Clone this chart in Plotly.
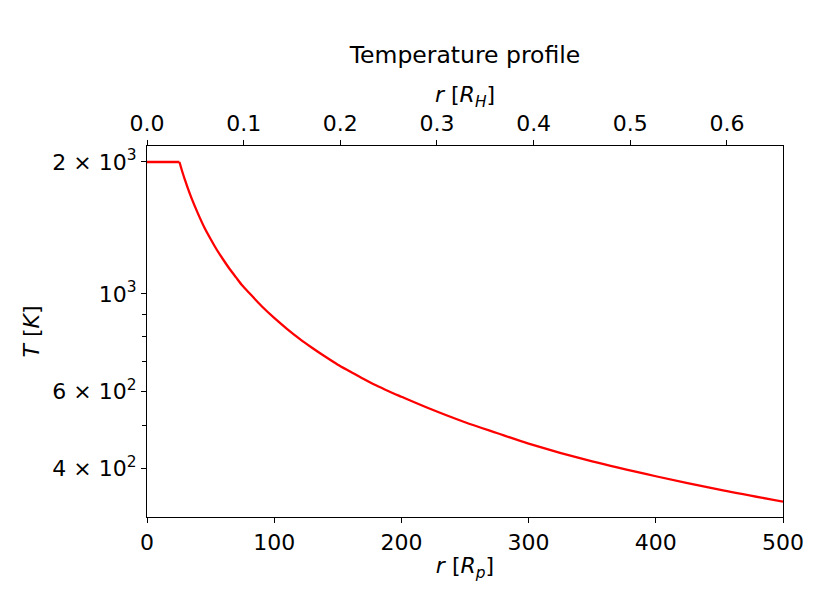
import plotly.graph_objects as go

# radius in planet radii and temperature in K
r_p = [0, 25.5, 28, 30, 32, 35, 40, 45, 50, 55, 60, 65, 70, 75, 80, 90, 100,
       110, 120, 130, 140, 150, 160, 170, 180, 190, 200, 220, 250, 275, 300,
       350, 400, 450, 500]
temp = [2000, 2000, 1890, 1815, 1745, 1654, 1527, 1420, 1335, 1260, 1197, 1140,
        1091, 1045, 1008, 939, 882, 833, 790, 753, 720, 690, 665, 641, 619,
        600, 583, 551, 510, 482, 456, 415, 384, 358, 336]

# conversion from R_p to R_H (top axis)
rp_to_rh = 0.001316
r_max = 500

y_labeled = [2000, 1000, 600, 400]
y_labels = ['2 × 10<sup>3</sup>', '10<sup>3</sup>', '6 × 10<sup>2</sup>', '4 × 10<sup>2</sup>']
y_minor = [300, 400, 500, 600, 700, 800, 900, 2000]

r_h = [v * rp_to_rh for v in r_p]

font = 'DejaVu Sans'
fs = 22

fig = go.Figure()
# flat core part, then the decaying part
fig.add_trace(go.Scatter(x=r_p[:2], y=temp[:2], mode='lines',
                         line=dict(color='red', width=2.3), showlegend=False))
fig.add_trace(go.Scatter(x=r_p[1:], y=temp[1:], mode='lines',
                         line=dict(color='red', width=2.3, shape='spline', smoothing=0.8),
                         showlegend=False))
fig.add_trace(go.Scatter(x=r_h, y=temp, mode='lines', xaxis='x2', opacity=0,
                         hoverinfo='skip', showlegend=False))

axis_common = dict(showline=True, linecolor='black', linewidth=1.2,
                   ticks='outside', ticklen=5, tickwidth=1.2, tickcolor='black',
                   showgrid=False, zeroline=False,
                   tickfont=dict(family=font, size=fs, color='black'))

fig.update_layout(
    width=822, height=601,
    margin=dict(l=139, r=47, t=138, b=92),
    paper_bgcolor='white', plot_bgcolor='white',
    font=dict(family=font, size=fs, color='black'),
    title=dict(text='Temperature profile', x=(139 + 318) / 822, xanchor='center',
               y=1 - 47 / 601, yanchor='middle', yref='container',
               font=dict(family=font, size=23.5, color='black')),
    xaxis=dict(range=[0, r_max], dtick=100, mirror=True,
               title=dict(text='<i>r</i> [<i>R</i><sub><i>p</i></sub>]',
                          standoff=4, font=dict(family=font, size=fs)),
               **axis_common),
    xaxis2=dict(range=[0, r_max * rp_to_rh], dtick=0.1, tickformat='.1f',
                overlaying='x', side='top', anchor='y',
                title=dict(text='<i>r</i> [<i>R</i><sub><i>H</i></sub>]',
                           standoff=0, font=dict(family=font, size=fs)),
                **axis_common),
    yaxis=dict(type='log', range=[2.4914, 3.3375], mirror=True,
               tickmode='array', tickvals=y_labeled, ticktext=y_labels,
               minor=dict(tickmode='array', tickvals=y_minor, ticks='outside',
                          ticklen=3.5, tickwidth=1.2, tickcolor='black'),
               title=dict(text='<i>T</i> [<i>K</i>]', standoff=6,
                          font=dict(family=font, size=fs)),
               **axis_common),
)

fig.write_html('out.html')
